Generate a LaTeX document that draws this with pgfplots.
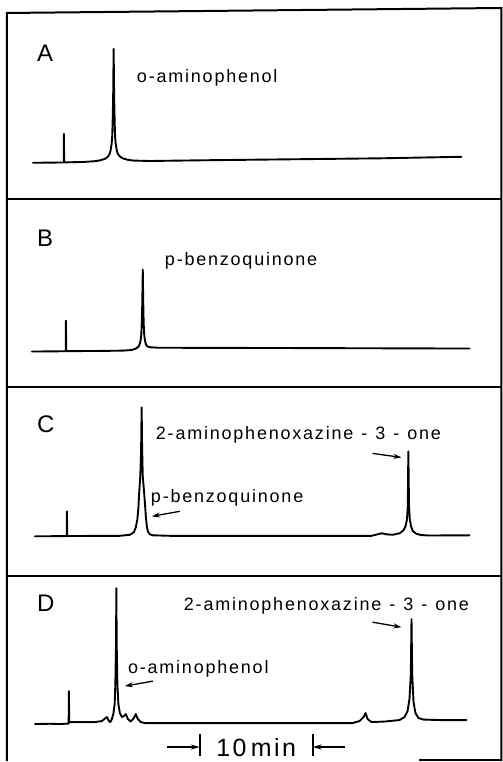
\documentclass[border=0pt]{standalone}
\usepackage{fontspec}
\setmainfont{Liberation Sans}
\newfontfamily\labfont[LetterSpace=10]{Liberation Sans}
\usepackage{pgfplots}
\pgfplotsset{compat=1.18}
\usetikzlibrary{arrows.meta}
\pgfplotsset{
  panel/.style={scale only axis, width=495pt, xmin=-5.22, xmax=38.58,
    hide axis, clip=false, anchor=south west},
  trace/.style={black, line width=1.9pt, line join=round, line cap=round, mark=none},
}
\tikzset{
  lbl/.style={anchor=base west, inner sep=0pt, font=\fontsize{24}{26}\selectfont},
  txt/.style={anchor=base west, inner sep=0pt, font=\labfont\fontsize{18}{20}\selectfont},
  arr/.style={line width=1.3pt, -{Stealth[length=8pt,width=5pt]}},
}
\newcommand{\hy}{\hspace{8pt}-\hspace{8pt}}
\begin{document}
\begin{tikzpicture}
\path (0pt,0pt) rectangle (503pt,-762pt);
% frame
\draw[line width=2pt] (7pt,-762pt) -- (7pt,-13pt) -- (502pt,-8pt) -- (502pt,-762pt);
\draw[line width=2pt] (7pt,-199pt) -- (502pt,-199pt);
\draw[line width=2pt] (7pt,-388pt) -- (502pt,-388pt);
\draw[line width=2pt] (7pt,-577pt) -- (502pt,-577pt);
\draw[line width=2pt] (420pt,-761pt) -- (502pt,-761pt);

% Panel A
\begin{axis}[panel, at={(7pt,-199pt)}, height=188pt, ymin=-36, ymax=152]
\addplot[trace] coordinates {(-2.92,0) (-0.30,0.3) (-0.18,0.3) (-0.18,29) (-0.15,0.4) (1.5,0.8) (2.46,1.5) (2.99,2.3) (3.43,3.8) (3.70,5.8) (3.88,9) (3.96,12.5) (4.05,19) (4.10,26) (4.14,40) (4.19,70) (4.23,114) (4.27,70) (4.32,40) (4.36,26) (4.41,19) (4.50,13) (4.58,9.5) (4.76,6.5) (5.03,4.5) (5.47,3) (6.0,2.2) (7.5,1.8) (12,2.5) (20,3.5) (28,4.5) (35.04,6)};
\node[lbl] at (axis cs:-2.57,101) {A};
\node[txt] at (axis cs:6.28,80) {o-aminophenol};
\end{axis}

% Panel B
\begin{axis}[panel, at={(7pt,-388pt)}, height=189pt, ymin=-36, ymax=153]
\addplot[trace] coordinates {(-3.01,0) (-0.05,0.3) (0,0.3) (0,31) (0.03,0.4) (3,0.6) (5.0,0.9) (5.8,1.5) (6.2,3) (6.45,5) (6.55,8) (6.63,12) (6.68,17) (6.72,28) (6.77,50) (6.81,82) (6.85,50) (6.89,28) (6.94,17) (6.99,12) (7.07,8) (7.17,5.5) (7.35,4.5) (7.6,4.2) (8.2,3.8) (20,3.5) (35.75,3)};
\node[lbl] at (axis cs:-2.57,105) {B};
\node[txt] at (axis cs:8.76,86) {p-benzoquinone};
\end{axis}

% Panel C
\begin{axis}[panel, at={(7pt,-577pt)}, height=189pt, ymin=-40, ymax=149]
\addplot[trace] coordinates {(-2.74,0) (0.05,0.2) (0.09,0.2) (0.09,25) (0.12,0.3) (3,0.4) (4.78,0.5) (5.66,1.5) (6.02,4) (6.19,9) (6.33,17) (6.42,28) (6.50,45) (6.59,60) (6.66,85) (6.71,129) (6.75,90) (6.81,60) (6.90,48) (6.99,35) (7.08,20) (7.17,10) (7.26,5) (7.43,2) (7.70,1) (9.20,0.5) (20,0.5) (27.08,0.5) (27.61,2) (27.96,3) (28.41,2) (28.94,1.5) (29.56,3) (29.91,6) (30.09,10) (30.22,17) (30.29,30) (30.34,85) (30.40,30) (30.47,17) (30.58,10) (30.75,5) (31.06,2.5) (31.50,1.2) (32.21,0.8) (35.75,1)};
\node[lbl] at (axis cs:-2.57,104) {C};
\node[txt] at (axis cs:7.96,97) {2-aminophenoxazine\hy 3\hy one};
\node[txt] at (axis cs:7.52,34) {p-benzoquinone};
\draw[arr] (axis cs:27.17,83) -- (axis cs:29.73,79);
\draw[arr] (axis cs:10.09,25) -- (axis cs:7.61,20);
\end{axis}

% Panel D
\begin{axis}[panel, at={(7pt,-762pt)}, height=185pt, ymin=-37, ymax=148]
\addplot[trace] coordinates {(-2.74,0) (-1.42,0.3) (-0.53,0) (0.24,0.5) (0.27,33) (0.29,2) (1.24,2) (2.57,2) (3.19,3) (3.45,5.5) (3.63,7) (3.81,3) (3.94,2) (4.07,5) (4.20,10) (4.32,20) (4.38,40) (4.44,80) (4.47,136) (4.50,80) (4.56,40) (4.65,20) (4.78,11) (4.96,7) (5.13,8) (5.31,10) (5.49,5) (5.75,2.5) (6.02,6) (6.19,10) (6.37,5) (6.64,2) (6.99,1) (11.86,1) (20.71,1) (25.40,1) (26.02,3) (26.37,7) (26.55,11) (26.73,5) (27.08,2) (28.23,2.5) (29.56,4) (30.00,7) (30.27,13) (30.44,25) (30.56,50) (30.62,105) (30.68,50) (30.80,22) (30.97,11) (31.24,6) (31.68,4.5) (33.10,4) (35.49,4)};
\node[lbl] at (axis cs:-2.57,113) {D};
\node[txt] at (axis cs:10.44,114) {2-aminophenoxazine\hy 3\hy one};
\node[txt] at (axis cs:5.49,51) {o-aminophenol};
\draw[arr] (axis cs:27.17,102) -- (axis cs:29.73,97);
\draw[arr] (axis cs:7.70,43) -- (axis cs:5.22,38);
% 10 min scale bar
\draw[line width=1.8pt, -{Stealth[length=9pt,width=5pt]}] (axis cs:8.94,-23) -- (axis cs:11.86,-23);
\draw[line width=1.8pt] (axis cs:11.86,-10) -- (axis cs:11.86,-32);
\draw[line width=1.8pt, -{Stealth[length=9pt,width=5pt]}] (axis cs:24.69,-23) -- (axis cs:21.86,-23);
\draw[line width=1.8pt] (axis cs:21.86,-10) -- (axis cs:21.86,-32);
\node[anchor=base, inner sep=0pt, font=\labfont\fontsize{25}{27}\selectfont] at (axis cs:16.86,-32) {10\,min};
\end{axis}
\end{tikzpicture}
\end{document}
